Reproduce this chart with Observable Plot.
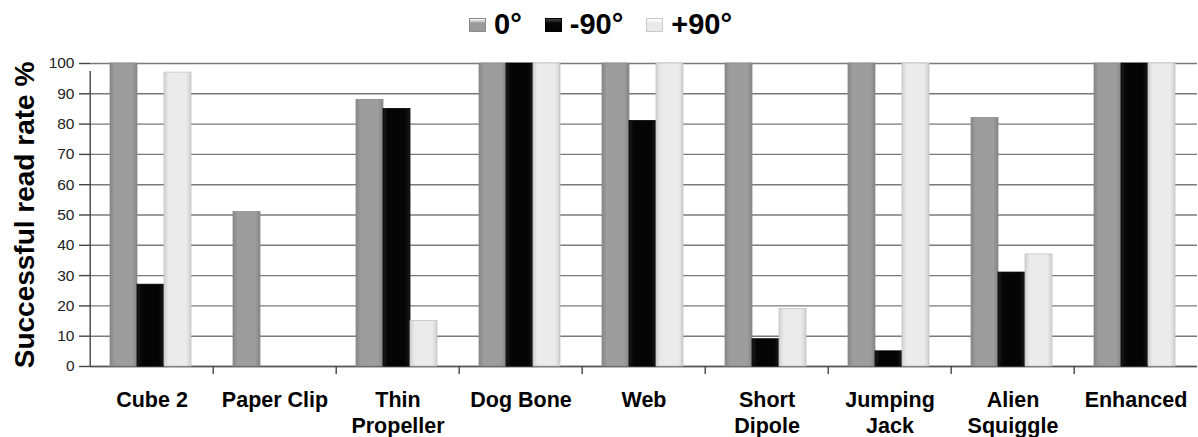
<!DOCTYPE html>
<html>
<head>
<meta charset="utf-8">
<script src="https://cdn.jsdelivr.net/npm/d3@7"></script>
<script src="https://cdn.jsdelivr.net/npm/@observablehq/plot@0.6"></script>
<style>
  html, body { margin: 0; padding: 0; background: #fff; }
  body { font-family: "Liberation Sans", Arial, sans-serif; width: 1198px; height: 437px; overflow: hidden; }
  #legend { position: relative; height: 45px; }
  #legend .items { position: absolute; left: 469px; top: 8px; display: flex; align-items: center; }
  #legend .sw { width: 17px; height: 14px; box-sizing: border-box; margin-right: 8px; }
  #legend .lab { font-size: 29px; font-weight: bold; color: #000; margin-right: 23px; }
</style>
</head>
<body>
<div id="legend"><div class="items"></div></div>
<div id="chart"></div>
<script>
// ---- data ----
const categories = ["Cube 2", "Paper Clip", "Thin\nPropeller", "Dog Bone", "Web", "Short\nDipole", "Jumping\nJack", "Alien\nSquiggle", "Enhanced"];
const series = ["0°", "-90°", "+90°"];
const values0 = [100, 51, 88, 100, 100, 100, 100, 82, 100];
const valuesNeg90 = [27, 0, 85, 100, 81, 9, 5, 31, 100];
const valuesPos90 = [97, 0, 15, 100, 100, 19, 100, 37, 100];
const yTicks = [0, 10, 20, 30, 40, 50, 60, 70, 80, 90, 100];
const yLabel = "Successful read rate %";

const seriesValues = [values0, valuesNeg90, valuesPos90];
const data = [];
categories.forEach((c, i) => series.forEach((s, j) => data.push({category: c, series: s, value: seriesValues[j][i]})));

const swatchColors = ["#9b9b9b", "#050505", "#e9e9e9"];
const gradIds = ["g0", "g1", "g2"];

// legend
const items = document.querySelector("#legend .items");
series.forEach((s, j) => {
  const sw = document.createElement("span");
  sw.className = "sw";
  sw.style.background = `linear-gradient(180deg, ${j===1?"#444":"#fff"} 0%, ${swatchColors[j]} 35%, ${swatchColors[j]} 100%)`;
  sw.style.border = "1px solid " + (j === 2 ? "#c8c8c8" : j === 1 ? "#000" : "#8a8a8a");
  const lab = document.createElement("span");
  lab.className = "lab";
  lab.textContent = s;
  items.appendChild(sw);
  items.appendChild(lab);
});

const plot = Plot.plot({
  width: 1198,
  height: 392,
  marginTop: 18,
  marginBottom: 71,
  marginLeft: 87,
  marginRight: -2,
  style: {fontFamily: "'Liberation Sans', Arial, sans-serif", color: "#000", background: "#fff", overflow: "visible"},
  fx: {domain: categories, padding: 0, label: null},
  x: {domain: series, paddingInner: 0, paddingOuter: 0.773, align: 0.48, axis: null},
  y: {domain: [0, 100], axis: null},
  color: {domain: series, range: gradIds.map(id => `url(#${id})`)},
  marks: [
    Plot.gridY(yTicks, {stroke: "#7a7a7a", strokeOpacity: 1, strokeWidth: 1.4}),
    Plot.ruleY([0], {stroke: "#555", strokeWidth: 1.4}),
    Plot.barY(data, {fx: "category", x: "series", y: "value", fill: "series",
      stroke: d => d.series === "+90°" ? "#c4c4c4" : d.series === "0°" ? "#8a8a8a" : "#000", strokeWidth: 0.8}),
    // category boundary ticks (and y-axis line on first facet)
    Plot.ruleX(categories, {fx: d => d, x: () => series[0], dx: -33.8, y1: 0,
      y2: d => d === categories[0] ? 100 : 0, insetBottom: -8, stroke: "#444", strokeWidth: 1.4}),
    Plot.axisY({ticks: yTicks, tickSize: 11, tickPadding: 5, fontSize: 15.5, stroke: "#444", strokeWidth: 1.4, label: null, color: "#222"}),
    Plot.axisFx({anchor: "bottom", tickSize: 0, tickPadding: 23, fontSize: 21.5, fontWeight: "bold", lineHeight: 1.17, label: null}),
    Plot.text([yLabel], {fx: () => categories[0], text: d => d, frameAnchor: "left", textAnchor: "middle", dx: -65, rotate: -90, fontSize: 28, fontWeight: "bold", fill: "#000"})
  ]
});

// gradient definitions for the beveled bars
const ns = "http://www.w3.org/2000/svg";
const defs = document.createElementNS(ns, "defs");
const gradStops = [
  [["0%", "#868686"], ["18%", "#9d9d9d"], ["82%", "#9d9d9d"], ["100%", "#858585"]],
  [["0%", "#1e1e1e"], ["18%", "#050505"], ["82%", "#050505"], ["100%", "#1c1c1c"]],
  [["0%", "#d2d2d2"], ["18%", "#ebebeb"], ["82%", "#ebebeb"], ["100%", "#d0d0d0"]]
];
gradIds.forEach((id, j) => {
  const g = document.createElementNS(ns, "linearGradient");
  g.setAttribute("id", id);
  g.setAttribute("x1", "0"); g.setAttribute("x2", "1"); g.setAttribute("y1", "0"); g.setAttribute("y2", "0");
  gradStops[j].forEach(([o, c]) => {
    const st = document.createElementNS(ns, "stop");
    st.setAttribute("offset", o); st.setAttribute("stop-color", c);
    g.appendChild(st);
  });
  defs.appendChild(g);
});
plot.insertBefore(defs, plot.firstChild);
document.getElementById("chart").appendChild(plot);
</script>
</body>
</html>
